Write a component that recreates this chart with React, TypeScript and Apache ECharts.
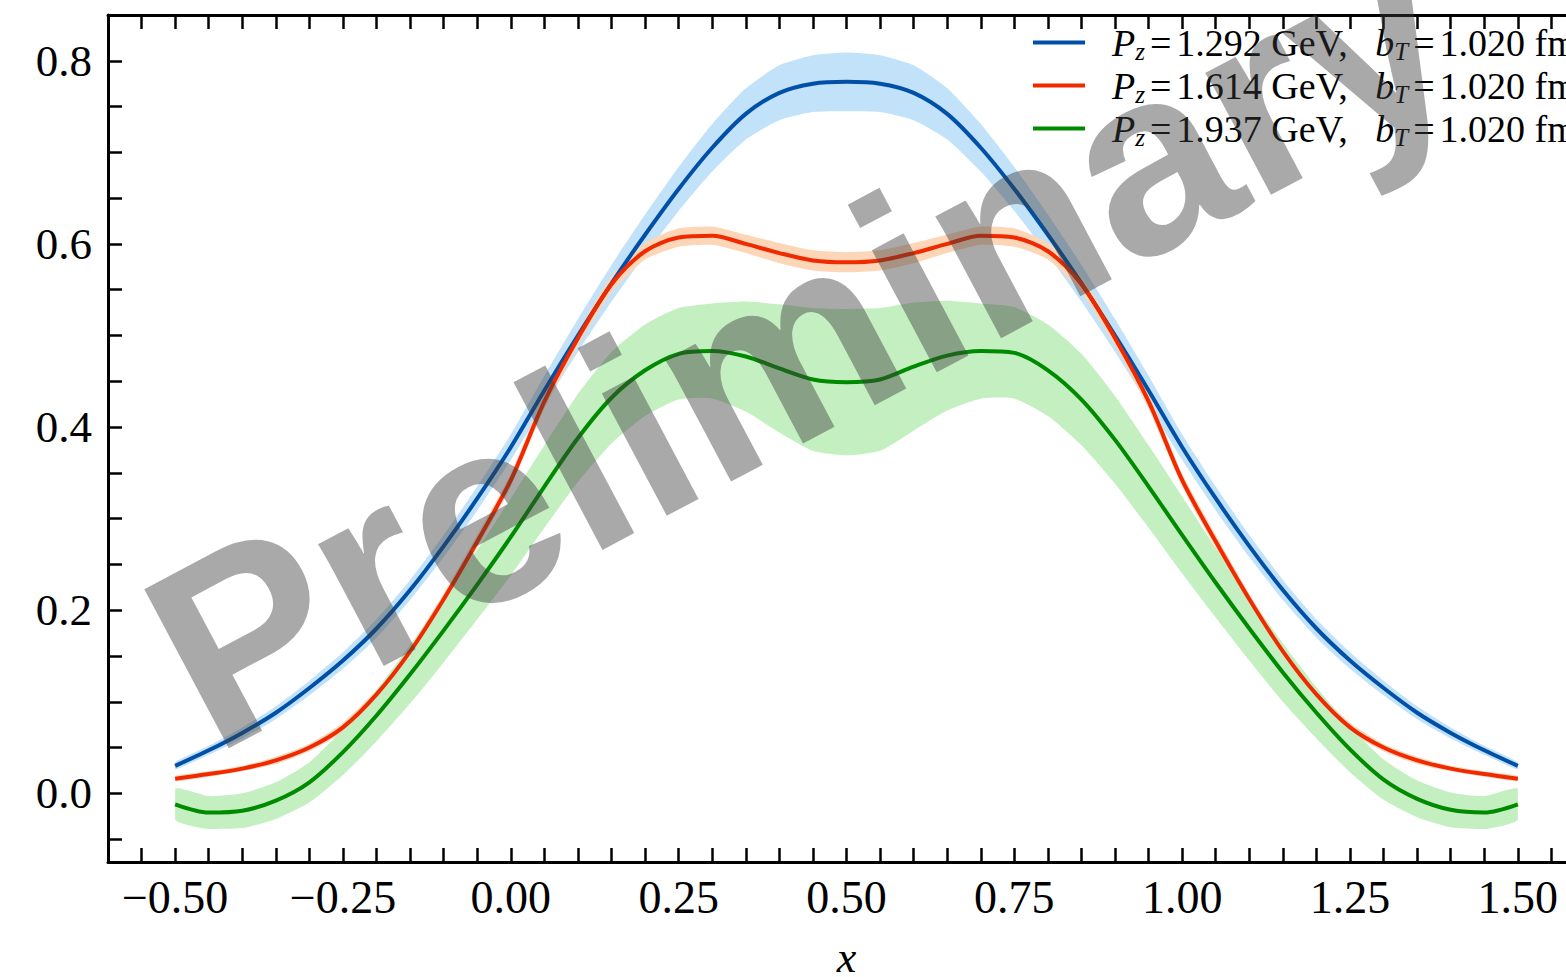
import React, { useEffect, useRef } from "react";
import * as echarts from "echarts";

// x grid of the curves
const xs = [
  -0.5, -0.45, -0.4, -0.35, -0.3, -0.25, -0.2, -0.15, -0.1, -0.05, 0.0, 0.05, 0.1, 0.15, 0.2, 0.25, 0.3, 0.35, 0.4, 0.45, 0.5,
  0.55, 0.6, 0.65, 0.7, 0.75, 0.8, 0.85, 0.9, 0.95, 1.0, 1.05, 1.1, 1.15, 1.2, 1.25, 1.3, 1.35, 1.4, 1.45, 1.5,
];

// Pz = 1.292 GeV
const blueMean = [
  0.030, 0.047, 0.066, 0.088, 0.115, 0.145, 0.180, 0.222, 0.270, 0.322, 0.378, 0.440, 0.500, 0.557, 0.610, 0.660, 0.705, 0.742, 0.765, 0.775, 0.777,
  0.775, 0.765, 0.742, 0.705, 0.660, 0.610, 0.557, 0.500, 0.440, 0.378, 0.322, 0.270, 0.222, 0.180, 0.145, 0.115, 0.088, 0.066, 0.047, 0.030,
];
const blueErr = [
  0.004, 0.005, 0.006, 0.007, 0.008, 0.009, 0.010, 0.011, 0.012, 0.013, 0.014, 0.016, 0.018, 0.020, 0.022, 0.024, 0.026, 0.028, 0.030, 0.031, 0.032,
  0.031, 0.030, 0.028, 0.026, 0.024, 0.022, 0.020, 0.018, 0.016, 0.014, 0.013, 0.012, 0.011, 0.010, 0.009, 0.008, 0.007, 0.006, 0.005, 0.004,
];

// Pz = 1.614 GeV
const redMean = [
  0.016, 0.021, 0.027, 0.036, 0.050, 0.072, 0.108, 0.155, 0.212, 0.275, 0.342, 0.428, 0.497, 0.556, 0.592, 0.607, 0.609, 0.600, 0.590, 0.582, 0.580,
  0.582, 0.590, 0.600, 0.609, 0.607, 0.592, 0.556, 0.497, 0.428, 0.342, 0.275, 0.212, 0.155, 0.108, 0.072, 0.050, 0.036, 0.027, 0.021, 0.016,
];
const redErr = [
  0.003, 0.003, 0.003, 0.004, 0.004, 0.005, 0.005, 0.006, 0.006, 0.007, 0.007, 0.008, 0.008, 0.009, 0.009, 0.010, 0.010, 0.010, 0.011, 0.011, 0.011,
  0.011, 0.011, 0.010, 0.010, 0.010, 0.009, 0.009, 0.008, 0.008, 0.007, 0.007, 0.006, 0.006, 0.005, 0.005, 0.004, 0.004, 0.003, 0.003, 0.003,
];

// Pz = 1.937 GeV
const greenMean = [
  -0.012, -0.021, -0.019, -0.008, 0.012, 0.045, 0.085, 0.130, 0.178, 0.228, 0.280, 0.335, 0.388, 0.432, 0.462, 0.480, 0.483, 0.477, 0.464, 0.452, 0.449,
  0.452, 0.466, 0.478, 0.483, 0.481, 0.462, 0.430, 0.386, 0.335, 0.282, 0.230, 0.180, 0.132, 0.088, 0.048, 0.015, -0.006, -0.018, -0.021, -0.012,
];
const greenErr = [
  0.017, 0.018, 0.019, 0.020, 0.022, 0.025, 0.028, 0.032, 0.035, 0.038, 0.042, 0.045, 0.048, 0.050, 0.050, 0.050, 0.052, 0.060, 0.070, 0.078, 0.080,
  0.078, 0.070, 0.060, 0.052, 0.050, 0.050, 0.050, 0.048, 0.045, 0.042, 0.038, 0.035, 0.032, 0.028, 0.025, 0.022, 0.020, 0.019, 0.018, 0.017,
];

const pzValues = ["1.292", "1.614", "1.937"];
const bTValue = "1.020";
const seriesNames = ["Pz=1.292", "Pz=1.614", "Pz=1.937"];
const lineColors = ["#0050a8", "#f02a00", "#008a00"];
const bandColors = ["#c2e2fa", "#fdd6b8", "#c4efc1"];

const xLabelValues = [-0.5, -0.25, 0, 0.25, 0.5, 0.75, 1.0, 1.25, 1.5];
const yLabelValues = [0, 0.2, 0.4, 0.6, 0.8];

const SERIF = '"Liberation Serif", "Times New Roman", serif';

export default function App() {
  const ref = useRef<HTMLDivElement>(null);

  useEffect(() => {
    if (!ref.current) return;
    const chart = echarts.init(ref.current, null, { renderer: "svg" });

    const xTicks: number[] = [];
    for (let i = -11; i <= 31; i++) xTicks.push(Math.round(i * 5) / 100);
    const yTicks: number[] = [];
    for (let i = -1; i <= 16; i++) yTicks.push(Math.round(i * 5) / 100);

    const means = [blueMean, redMean, greenMean];
    const errs = [blueErr, redErr, greenErr];

    const series: any[] = [];
    means.forEach((m, k) => {
      const e = errs[k];
      series.push({
        type: "custom",
        name: "band-" + k,
        data: xs.map((x, i) => [x, m[i] - e[i], m[i] + e[i]]),
        encode: { x: 0, y: [1, 2] },
        silent: true,
        z: 1,
        renderItem: (params: any, api: any) => {
          if (params.dataIndex !== 0) return null;
          const upper = xs.map((x, i) => api.coord([x, m[i] + e[i]]));
          const lower = xs.map((x, i) => api.coord([x, m[i] - e[i]])).reverse();
          const pts = upper.concat(lower);
          let x0 = Infinity, y0 = Infinity, x1 = -Infinity, y1 = -Infinity;
          pts.forEach((p: number[]) => {
            x0 = Math.min(x0, p[0]); y0 = Math.min(y0, p[1]);
            x1 = Math.max(x1, p[0]); y1 = Math.max(y1, p[1]);
          });
          return {
            type: "polygon",
            shape: { points: pts, smooth: 0.2, smoothConstraint: [[x0, y0], [x1, y1]] },
            style: { fill: bandColors[k], stroke: "none" },
            silent: true,
          };
        },
      });
    });
    means.forEach((m, k) => {
      series.push({
        type: "line",
        name: seriesNames[k],
        data: xs.map((x, i) => [x, m[i]]),
        symbol: "none",
        smooth: 0.3,
        lineStyle: { color: lineColors[k], width: 4 },
        itemStyle: { color: lineColors[k] },
        z: 3,
      });
    });

    const axisLine = { show: true, onZero: false, lineStyle: { color: "#000", width: 3 } };
    const tickStyle = { color: "#000", width: 2.5 };

    chart.setOption({
      animation: false,
      backgroundColor: "#fff",
      grid: { left: 108, top: 15, width: 1477, height: 847, containLabel: false, outerBoundsMode: "none" },
      xAxis: [
        {
          type: "value",
          position: "bottom",
          min: -0.6,
          max: 1.6,
          axisLine,
          axisTick: { show: true, inside: true, length: 14, lineStyle: tickStyle, customValues: xTicks },
          axisLabel: {
            customValues: xLabelValues,
            fontSize: 46,
            fontFamily: SERIF,
            color: "#000",
            margin: 12,
            formatter: (v: number) => (v < 0 ? "\u2212" + Math.abs(v).toFixed(2) : v.toFixed(2)),
          },
          splitLine: { show: false },
          name: "x",
          nameLocation: "middle",
          nameGap: 82,
          nameTextStyle: { fontSize: 44, fontStyle: "italic", fontFamily: SERIF, color: "#000", lineHeight: 26 },
        },
        {
          type: "value",
          position: "top",
          min: -0.6,
          max: 1.6,
          axisLine,
          axisTick: { show: true, inside: true, length: 14, lineStyle: tickStyle, customValues: xTicks },
          axisLabel: { show: false },
          splitLine: { show: false },
        },
      ],
      yAxis: [
        {
          type: "value",
          position: "left",
          min: -0.075,
          max: 0.85,
          axisLine,
          axisTick: { show: true, inside: true, length: 14, lineStyle: tickStyle, customValues: yTicks },
          axisLabel: {
            customValues: yLabelValues,
            fontSize: 45,
            fontFamily: SERIF,
            color: "#000",
            margin: 16,
            formatter: (v: number) => v.toFixed(1),
          },
          splitLine: { show: false },
        },
        {
          type: "value",
          position: "right",
          min: -0.075,
          max: 0.85,
          axisLine,
          axisTick: { show: true, inside: true, length: 14, lineStyle: tickStyle, customValues: yTicks },
          axisLabel: { show: false },
          splitLine: { show: false },
        },
      ],
      legend: {
        data: seriesNames,
        orient: "vertical",
        left: 1033,
        top: 21,
        padding: 0,
        itemWidth: 52,
        itemHeight: 4,
        itemGap: 0,
        icon: "rect",
        selectedMode: false,
        formatter: (name: string) => {
          const k = seriesNames.indexOf(name);
          return `{i|P}{s|z}{e|=}{t|${pzValues[k]} GeV,}{g| }{i2|b}{s|T}{e|=}{t|${bTValue} fm}`;
        },
        textStyle: {
          color: "#000",
          fontFamily: SERIF,
          fontSize: 38,
          rich: {
            i: { fontStyle: "italic", fontSize: 38, fontFamily: SERIF, color: "#000", lineHeight: 43, padding: [0, 0, 0, 22] },
            i2: { fontStyle: "italic", fontSize: 38, fontFamily: SERIF, color: "#000", lineHeight: 43 },
            s: { fontStyle: "italic", fontSize: 25, fontFamily: SERIF, color: "#000", lineHeight: 24, padding: [18, 0, 0, 0] },
            e: { fontSize: 38, fontFamily: SERIF, color: "#000", lineHeight: 43, padding: [0, 5, 0, 5] },
            g: { fontSize: 38, fontFamily: SERIF, color: "#000", lineHeight: 43, padding: [0, 9, 0, 9] },
            t: { fontSize: 38, fontFamily: SERIF, color: "#000", lineHeight: 43 },
          },
        },
      },
      graphic: [
        {
          type: "text",
          x: 801,
          y: 342,
          rotation: (28 * Math.PI) / 180,
          z: 100,
          silent: true,
          style: {
            text: "Preliminary",
            fontSize: 262,
            fontWeight: "bold",
            fontFamily: '"Liberation Sans", Arial, sans-serif',
            fill: "rgba(60,60,60,0.44)",
            align: "center",
            verticalAlign: "middle",
          },
        },
      ],
      series,
    });

    return () => chart.dispose();
  }, []);

  return (
    <div style={{ position: "fixed", left: 0, top: 0, width: 1566, height: 977, overflow: "hidden", background: "#fff" }}>
      <div ref={ref} style={{ width: 1600, height: 977 }} />
    </div>
  );
}
